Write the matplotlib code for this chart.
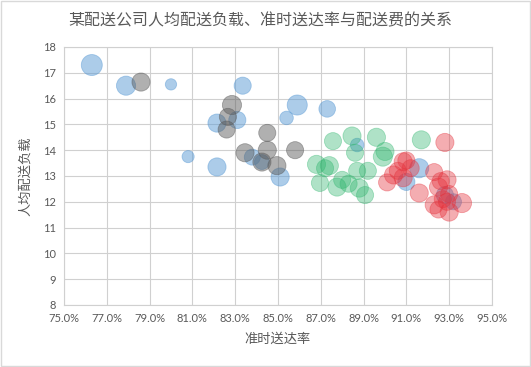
import matplotlib.pyplot as plt
from matplotlib.ticker import FuncFormatter, MultipleLocator
from matplotlib.patches import Rectangle

plt.rcParams['font.family'] = ['Lato', 'Noto Sans CJK SC', 'DejaVu Sans']

# 准时送达率 (%), 人均配送负载, 配送费 (bubble size)
blue_x = [76.3, 77.9, 80.0, 83.35, 82.15, 83.1, 85.4, 85.9, 87.3, 80.8, 82.15,
          85.1, 83.8, 84.25, 88.7, 91.6, 91.0, 92.8, 93.2]
blue_y = [17.3, 16.5, 16.55, 16.5, 15.05, 15.17, 15.25, 15.75, 15.6, 13.75, 13.35,
          12.96, 13.73, 13.54, 14.2, 13.3, 12.77, 12.26, 12.0]
blue_s = [12, 10, 3.5, 8, 9, 8, 5, 11, 7.5, 4, 9,
          9, 7, 6, 5, 10, 8, 8, 7]

gray_x = [78.6, 82.85, 82.66, 82.6, 84.5, 83.46, 84.5, 84.25, 84.95, 85.8]
gray_y = [16.64, 15.75, 15.29, 14.8, 14.67, 13.9, 14.0, 13.54, 13.4, 14.0]
gray_s = [9, 10, 8, 8, 8, 9, 9, 9, 9, 8]

green_x = [87.57, 88.46, 89.6, 91.7, 88.6, 86.8, 87.4, 86.96, 87.76, 88.0,
           88.7, 89.2, 88.8, 89.07, 89.9, 90.0, 87.2, 88.3]
green_y = [14.35, 14.55, 14.5, 14.4, 13.9, 13.45, 13.4, 12.73, 12.57, 12.85,
           13.2, 13.2, 12.53, 12.26, 13.75, 13.95, 13.3, 12.7]
green_s = [8, 9, 9, 9, 8, 9, 9, 8, 9, 8,
           8, 8, 9, 8, 10, 9, 8, 8]

red_x = [92.8, 90.85, 90.4, 90.85, 92.3, 92.9, 92.5, 91.6, 93.6, 92.3, 93.0,
         92.7, 90.1, 91.2, 90.6, 91.0, 92.6, 93.0, 92.5, 92.9]
red_y = [14.3, 13.55, 13.04, 12.93, 13.15, 12.85, 12.57, 12.34, 11.95, 11.88, 11.6,
         12.1, 12.75, 13.3, 13.2, 13.6, 12.8, 12.3, 11.7, 12.0]
red_s = [9, 9, 9, 9, 8, 9, 9, 9, 10, 9, 9,
         8, 8, 8, 8, 8, 8, 8, 8, 8]

series = [
    (blue_x, blue_y, blue_s, '#5B9BD5', 0.5),
    (gray_x, gray_y, gray_s, '#5a5a5a', 0.48),
    (green_x, green_y, green_s, '#2DB56C', 0.38),
    (red_x, red_y, red_s, '#E5323C', 0.4),
]

fig = plt.figure(figsize=(5.31, 3.67), dpi=100)
ax = fig.add_axes([0.1205, 0.169, 0.806, 0.703])

for xs, ys, ss, c, a in series:
    ax.scatter(xs, ys, s=[v * 19 for v in ss], color=c, alpha=a,
               edgecolors=c, linewidths=0.6, zorder=3)

ax.set_xlim(75, 95)
ax.set_ylim(8, 18)
ax.set_xticks(range(75, 96, 2))
ax.yaxis.set_major_locator(MultipleLocator(1))
ax.xaxis.set_major_formatter(FuncFormatter(lambda v, p: f"{v:.1f}%"))
ax.grid(True, color='#d0d0d0', linewidth=0.8, zorder=0)
ax.set_axisbelow(True)
for sp in ax.spines.values():
    sp.set_color('#d0d0d0')
    sp.set_linewidth(0.8)
ax.tick_params(length=0, colors='#595959', labelsize=8, pad=6)

ax.set_xlabel('准时送达率', fontsize=9.5, color='#595959', labelpad=6)
ax.set_ylabel('人均配送负载', fontsize=9.5, color='#595959', labelpad=8)
fig.text(0.49, 0.945, '某配送公司人均配送负载、准时送达率与配送费的关系',
         ha='center', va='center', fontsize=11.5, color='#595959')

fig.patches.append(Rectangle((0.002, 0.003), 0.996, 0.994, transform=fig.transFigure,
                             fill=False, edgecolor='#d9d9d9', linewidth=1))

fig.savefig('out.png', dpi=100)
